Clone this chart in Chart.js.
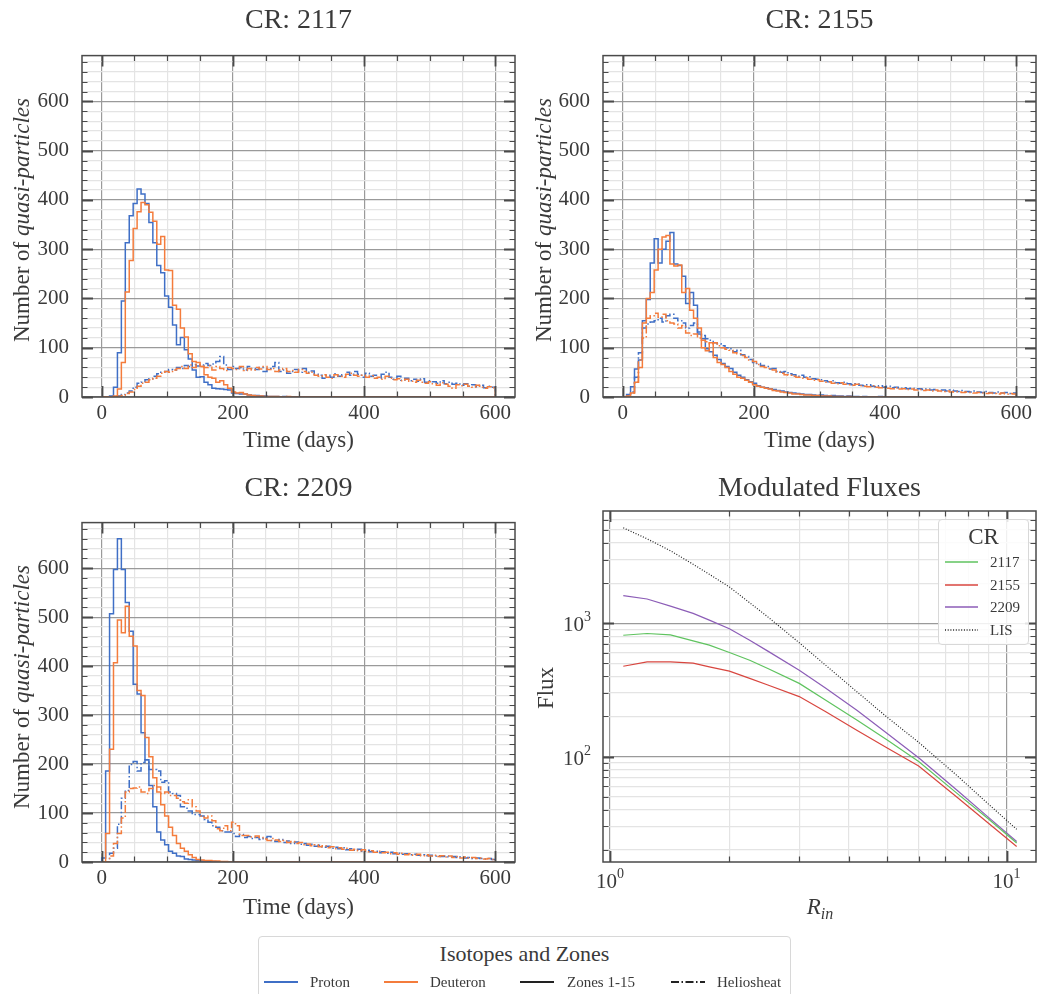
<!DOCTYPE html>
<html><head><meta charset="utf-8">
<script src="https://cdn.jsdelivr.net/npm/chart.js@4/dist/chart.umd.min.js"></script>
<style>
body{margin:0;background:#fff;width:1037px;height:994px;overflow:hidden;position:relative;font-family:"Liberation Serif","DejaVu Serif",serif;color:#3a3a3a}
canvas{position:absolute}
.t{position:absolute;white-space:nowrap;transform:translate(-50%,-50%);line-height:1}
.yl{position:absolute;white-space:nowrap;transform:translate(-50%,-50%) rotate(-90deg);line-height:1;font-size:23px}
.ttl{font-size:28px}
.xl{font-size:23px}
.leg{position:absolute;background:rgba(255,255,255,0.85);border:1px solid #d8d8d8;border-radius:4px;box-sizing:border-box}
.li{position:absolute;white-space:nowrap;line-height:1;transform:translateY(-50%)}
svg{position:absolute;overflow:visible}
</style>
</head><body>
<canvas id="c2117" width="525" height="430" style="left:0;top:30px"></canvas>
<canvas id="c2155" width="512" height="430" style="left:525px;top:30px"></canvas>
<canvas id="c2209" width="525" height="430" style="left:0;top:497px"></canvas>
<canvas id="cflux" width="512" height="430" style="left:525px;top:497px"></canvas>

<div class="t ttl" style="left:298.5px;top:19px">CR: 2117</div>
<div class="t ttl" style="left:819.5px;top:19px">CR: 2155</div>
<div class="t ttl" style="left:298.5px;top:487px">CR: 2209</div>
<div class="t ttl" style="left:819.5px;top:487px">Modulated Fluxes</div>

<div class="t xl" style="left:298.5px;top:439px">Time (days)</div>
<div class="t xl" style="left:819.5px;top:439px">Time (days)</div>
<div class="t xl" style="left:298.5px;top:906px">Time (days)</div>
<div class="t xl" style="left:820px;top:908px"><i>R</i><sub style="font-size:16px;font-style:italic;vertical-align:-5px">in</sub></div>

<div class="yl" style="left:21px;top:220px">Number of <i>quasi-particles</i></div>
<div class="yl" style="left:543px;top:220px">Number of <i>quasi-particles</i></div>
<div class="yl" style="left:21px;top:687px">Number of <i>quasi-particles</i></div>
<div class="yl" style="left:545px;top:688px">Flux</div>

<div class="leg" id="crleg" style="left:938px;top:519px;width:91px;height:126px"></div>
<div class="leg" id="isoleg" style="left:258px;top:936px;width:533px;height:70px"></div>

<script>
// ---------------- DATA ----------------
const BIN_WIDTH = 6;            // days per histogram bin (bins start at day 0)
const TIME_TICKS = [0, 200, 400, 600];
const TIME_MINOR_STEP = 50;
const COUNT_TICKS = [0, 100, 200, 300, 400, 500, 600];
const COUNT_MINOR_STEP = 20;

const ISOTOPES = ['Proton', 'Deuteron'];
const ZONES = ['Zones 1-15', 'Heliosheat'];
const CR_LIST = ['2117', '2155', '2209'];

// CR 2117 (100 bins of 6 days)
const CR2117_PROTON_ZONES = [0,0,2,20,90,195,313,368,393,422, 412,393,354,313,267,252,205,182,146,106, 121,96,77,55,40,41,30,25,18,17, 16,15,14,8,7,6,6,4,3,3, 2,2,1,1,1,0,1,0,0,0, 0,0,0,0,0,0,0,0,0,0, 0,0,0,0,0,0,0,0,0,0, 0,0,0,0,0,0,0,0,0,0, 0,0,0,0,0,0,0,0,0,0, 0,0,0,0,0,0,0,0,0,0];
const CR2117_DEUTERON_ZONES = [0,0,0,2,16,70,213,277,342,376, 395,390,375,357,310,326,258,257,186,178, 140,122,88,72,70,62,45,40,38,30, 33,25,18,10,8,9,6,4,3,2, 2,1,1,1,1,0,0,1,0,0, 0,0,0,0,0,0,0,0,0,0, 0,0,0,0,0,0,0,0,0,0, 0,0,0,0,0,0,0,0,0,0, 0,0,0,0,0,0,0,0,0,0, 0,0,0,0,0,0,0,0,0,0];
const CR2117_PROTON_HELIO = [0,0,0,0,2,5,8,12,20,28, 30,35,37,42,47,50,52,56,55,60, 58,64,62,66,63,65,68,64,67,72, 82,65,56,62,58,60,55,62,58,56, 60,52,58,62,70,52,55,48,52,56, 50,58,50,53,46,44,38,44,40,47, 42,45,50,44,52,46,40,48,42,44, 38,46,50,40,36,42,34,38,33,36, 32,37,30,33,31,28,33,27,30,26, 28,24,27,22,25,21,24,19,22,20];
const CR2117_DEUTERON_HELIO = [0,0,0,0,1,3,7,10,15,22, 28,30,35,38,42,48,52,50,55,58, 62,58,65,60,66,62,60,64,55,62, 58,54,60,58,56,62,54,58,55,60, 57,62,56,58,52,55,58,52,54,50, 56,52,48,50,44,42,45,40,38,45, 42,40,46,48,44,42,44,40,43,38, 40,36,42,38,35,37,33,36,32,30, 34,30,28,31,27,24,29,26,22,18, 25,23,26,22,20,24,20,18,21,19];

// CR 2155
const CR2155_PROTON_ZONES = [0,5,21,57,75,155,198,272,321,272, 300,316,334,270,267,245,190,212,186,128, 118,98,92,85,76,68,62,58,50,44, 40,35,31,28,23,20,19,17,15,13, 12,10,9,8,7,6,5,5,4,3, 4,3,2,3,2,2,1,2,1,1, 0,1,0,0,0,1,0,0,0,0, 0,0,0,0,0,0,0,0,0,0, 0,0,0,0,0,0,0,0,0,0, 0,0,0,0,0,0,0,0,0,0];
const CR2155_DEUTERON_ZONES = [0,2,8,30,60,150,200,212,258,300, 325,328,270,266,268,212,220,176,160,140, 100,94,110,80,70,66,60,52,46,40, 38,34,30,25,22,20,18,16,13,12, 10,9,8,6,6,5,4,4,3,3, 2,2,2,1,1,1,0,1,0,0, 0,0,0,0,0,0,0,0,0,0, 0,0,0,0,0,0,0,0,0,0, 0,0,0,0,0,0,0,0,0,0, 0,0,0,0,0,0,0,0,0,0];
const CR2155_PROTON_HELIO = [0,2,10,40,90,140,148,152,155,160, 152,165,168,160,155,150,140,145,150,132, 125,118,115,110,108,104,100,98,92,95, 86,82,76,70,68,64,62,57,58,52, 50,52,47,45,42,44,40,41,37,36, 35,33,31,33,29,28,30,27,25,27, 24,23,25,22,21,23,20,22,19,20, 18,19,17,18,16,17,15,16,14,15, 13,14,12,14,12,11,13,11,10,12, 10,9,11,9,8,10,8,9,7,8];
const CR2155_DEUTERON_HELIO = [0,1,8,30,75,120,160,165,170,162, 168,155,150,148,140,145,130,125,128,120, 115,112,108,110,104,100,97,95,90,88, 84,80,75,72,66,62,60,58,55,50, 48,45,44,42,40,38,39,36,34,35, 32,30,31,28,27,29,26,25,24,26, 23,22,21,23,20,19,21,18,17,19, 16,17,15,16,14,15,13,14,12,14, 12,11,12,10,11,10,9,10,9,8, 9,8,7,8,7,6,8,6,7,6];

// CR 2209
const CR2209_PROTON_ZONES = [8,186,507,597,660,597,530,471,363,343, 264,209,156,113,61,45,35,22,18,12, 11,6,5,4,3,2,2,1,1,0, 0,0,0,0,0,0,0,0,0,0, 0,0,0,0,0,0,0,0,0,0, 0,0,0,0,0,0,0,0,0,0, 0,0,0,0,0,0,0,0,0,0, 0,0,0,0,0,0,0,0,0,0, 0,0,0,0,0,0,0,0,0,0, 0,0,0,0,0,0,0,0,0,0];
const CR2209_DEUTERON_ZONES = [0,58,230,407,494,468,522,461,441,350, 340,254,215,172,143,117,94,71,54,38, 28,22,15,9,5,4,3,3,2,2, 1,1,0,0,0,0,0,0,0,0, 0,0,0,0,0,0,0,0,0,0, 0,0,0,0,0,0,0,0,0,0, 0,0,0,0,0,0,0,0,0,0, 0,0,0,0,0,0,0,0,0,0, 0,0,0,0,0,0,0,0,0,0, 0,0,0,0,0,0,0,0,0,0];
const CR2209_PROTON_HELIO = [0,0,18,28,77,130,146,199,205,186, 203,209,189,189,186,163,166,143,140,136, 113,110,104,97,97,94,87,81,74,71, 64,61,61,58,52,56,50,52,48,50, 46,49,52,44,42,46,40,43,38,41, 36,38,34,36,32,34,30,32,28,30, 27,29,25,27,24,26,22,24,21,22, 19,21,18,20,17,18,16,17,15,16, 14,15,13,14,12,13,11,12,10,11, 9,10,8,9,7,8,7,6,7,5];
const CR2209_DEUTERON_HELIO = [0,0,12,38,58,90,143,150,151,153, 143,140,150,156,153,140,143,136,136,130, 123,120,127,113,104,94,90,94,84,68, 64,74,64,81,74,54,54,54,51,53, 50,47,44,48,45,42,44,40,42,38, 40,35,37,33,35,31,33,29,31,27, 29,26,28,24,26,23,25,21,23,20, 22,19,20,17,19,16,18,15,17,14, 16,13,15,12,14,11,13,10,12,9, 11,8,10,8,9,7,8,6,7,5];

// Modulated fluxes
const R_IN = [1.08, 1.24, 1.42, 1.62, 1.78, 2.0, 2.25, 2.5, 3.0, 3.5, 4.2, 5.0, 6.0, 7.5, 9.0, 10.6];
const FLUX_2117 = [813, 838, 818, 738, 685, 604, 528, 458, 354, 265, 187, 133, 92, 53, 34, 22.5];
const FLUX_2155 = [476, 514, 514, 503, 471, 437, 386, 344, 282, 217, 157, 116, 85, 49.5, 31.6, 21.2];
const FLUX_2209 = [1610, 1520, 1345, 1187, 1056, 910, 745, 618, 445, 325, 222, 149, 98, 56, 35, 23.1];
const FLUX_LIS = [5200, 4300, 3495, 2770, 2330, 1870, 1425, 1116, 714, 483, 305, 197, 128, 72, 44, 28.5];
const FLUX_X_TICKS = [1, 10];
const FLUX_Y_TICKS = [100, 1000];

// ---------------- STYLE ----------------
const FONT = '"Liberation Serif", "DejaVu Serif", serif';
const TEXT = '#3a3a3a';
const MAJ_GRID = '#9a9a9a';
const MIN_GRID = '#e4e4e4';
const AXIS = '#4a4a4a';
const C_PROTON = '#3f6fc6';
const C_DEUTERON = '#f47c3c';
const DASHDOT = [8, 2.5, 1.5, 2.5];
const C_FLUX = {'2117': '#5fc35f', '2155': '#d8463f', '2209': '#8c5db7', 'LIS': '#222222'};

Chart.defaults.animation = false;
Chart.defaults.responsive = false;
Chart.defaults.devicePixelRatio = 1;
Chart.defaults.font.family = FONT;

const PANELS = {
  c2117: {left:0, top:30, width:525, height:430, area:{l:82, t:44, r:515, b:397}},
  c2155: {left:525, top:30, width:512, height:430, area:{l:603, t:44, r:1036, b:397}},
  c2209: {left:0, top:497, width:525, height:430, area:{l:82, t:511, r:515, b:862}},
  cflux: {left:525, top:497, width:512, height:430, area:{l:603, t:511, r:1036, b:862}}
};

function range(a, b, step) { const out = []; for (let v = a; v <= b + 1e-9; v += step) out.push(v); return out; }

// outline of a step histogram: value of bin i spans [i*w, (i+1)*w]
function stepPoints(counts) {
  const pts = [{x: 0, y: 0}];
  counts.forEach((c, i) => pts.push({x: i * BIN_WIDTH, y: c}));
  pts.push({x: counts.length * BIN_WIDTH, y: counts[counts.length - 1]});
  pts.push({x: counts.length * BIN_WIDTH, y: 0});
  return pts;
}

const frame = {
  id: 'frame',
  afterDatasetsDraw(chart, args, opts) {
    const {ctx, chartArea: {left, right, top, bottom}} = chart;
    const x = chart.scales.x, y = chart.scales.y;
    ctx.save();
    ctx.strokeStyle = AXIS;
    for (const t of x.ticks) {
      const px = Math.round(x.getPixelForValue(t.value)) + 0.5;
      const len = t.major ? 11 : 5.5;
      ctx.lineWidth = t.major ? 1.8 : 1.2;
      ctx.beginPath();
      ctx.moveTo(px, bottom); ctx.lineTo(px, bottom - len);
      ctx.moveTo(px, top); ctx.lineTo(px, top + len);
      ctx.stroke();
    }
    for (const t of y.ticks) {
      const py = Math.round(y.getPixelForValue(t.value)) + 0.5;
      const len = t.major ? 11 : 5.5;
      ctx.lineWidth = t.major ? 1.8 : 1.2;
      ctx.beginPath();
      ctx.moveTo(left, py); ctx.lineTo(left + len, py);
      ctx.moveTo(right, py); ctx.lineTo(right - len, py);
      ctx.stroke();
    }
    ctx.lineWidth = 1.5;
    ctx.strokeRect(left, top, right - left, bottom - top);
    if (opts.logLabels) {
      ctx.fillStyle = TEXT;
      const big = '21px ' + FONT, small = '14px ' + FONT;
      for (const t of x.ticks) {
        if (!t.major) continue;
        const e = String(Math.round(Math.log10(t.value)));
        ctx.font = big; const w1 = ctx.measureText('10').width;
        ctx.font = small; const w2 = ctx.measureText(e).width;
        const px = x.getPixelForValue(t.value);
        const sx = px - (w1 + w2) / 2;
        ctx.textBaseline = 'alphabetic'; ctx.textAlign = 'left';
        ctx.font = big; ctx.fillText('10', sx, bottom + 26);
        ctx.font = small; ctx.fillText(e, sx + w1, bottom + 16);
      }
      for (const t of y.ticks) {
        if (!t.major) continue;
        const e = String(Math.round(Math.log10(t.value)));
        ctx.font = big; const w1 = ctx.measureText('10').width;
        ctx.font = small; const w2 = ctx.measureText(e).width;
        const py = y.getPixelForValue(t.value);
        const ex = left - 12;
        ctx.textBaseline = 'alphabetic'; ctx.textAlign = 'left';
        ctx.font = small; ctx.fillText(e, ex - w2, py - 2);
        ctx.font = big; ctx.fillText('10', ex - w2 - w1, py + 8);
      }
    }
    ctx.restore();
  }
};

function geometry(id) {
  const p = PANELS[id];
  return {
    padding: {left: 0, top: p.area.t - p.top, right: p.left + p.width - p.area.r, bottom: 0},
    yWidth: p.area.l - p.left,
    xHeight: p.top + p.height - p.area.b
  };
}

function histChart(id, protonZones, deutZones, protonHelio, deutHelio) {
  const g = geometry(id);
  const mk = (counts, color, dash) => ({
    data: stepPoints(counts), borderColor: color, borderWidth: 1.5, borderDash: dash,
    stepped: 'before', pointRadius: 0, fill: false, tension: 0
  });
  const tickFont = {family: FONT, size: 21};
  new Chart(document.getElementById(id), {
    type: 'line',
    data: {datasets: [
      mk(deutZones, C_DEUTERON, []),
      mk(deutHelio, C_DEUTERON, DASHDOT),
      mk(protonZones, C_PROTON, []),
      mk(protonHelio, C_PROTON, DASHDOT)
    ]},
    options: {
      layout: {padding: g.padding},
      plugins: {legend: {display: false}, tooltip: {enabled: false}, frame: {}},
      scales: {
        x: {
          type: 'linear', min: -30, max: 630,
          afterBuildTicks: s => { s.ticks = range(TIME_TICKS[0], TIME_TICKS[TIME_TICKS.length - 1], TIME_MINOR_STEP).map(v => ({value: v, major: TIME_TICKS.includes(v)})); },
          afterFit: s => { s.height = g.xHeight; },
          ticks: {autoSkip: false, maxRotation: 0, padding: 4, color: TEXT, font: tickFont,
            callback: (v) => TIME_TICKS.includes(v) ? String(v) : ''},
          grid: {drawTicks: false, lineWidth: 1.2, color: c => (c.tick && TIME_TICKS.includes(c.tick.value)) ? MAJ_GRID : MIN_GRID},
          border: {display: false}
        },
        y: {
          type: 'linear', min: 0, max: 693,
          afterBuildTicks: s => { s.ticks = range(0, 680, COUNT_MINOR_STEP).map(v => ({value: v, major: COUNT_TICKS.includes(v)})); },
          afterFit: s => { s.width = g.yWidth; },
          ticks: {autoSkip: false, padding: 13, color: TEXT, font: tickFont,
            callback: (v) => COUNT_TICKS.includes(v) ? String(v) : ''},
          grid: {drawTicks: false, lineWidth: 1.2, color: c => (c.tick && COUNT_TICKS.includes(c.tick.value)) ? MAJ_GRID : MIN_GRID},
          border: {display: false}
        }
      }
    },
    plugins: [frame]
  });
}

histChart('c2117', CR2117_PROTON_ZONES, CR2117_DEUTERON_ZONES, CR2117_PROTON_HELIO, CR2117_DEUTERON_HELIO);
histChart('c2155', CR2155_PROTON_ZONES, CR2155_DEUTERON_ZONES, CR2155_PROTON_HELIO, CR2155_DEUTERON_HELIO);
histChart('c2209', CR2209_PROTON_ZONES, CR2209_DEUTERON_ZONES, CR2209_PROTON_HELIO, CR2209_DEUTERON_HELIO);

// Flux chart
(function () {
  const g = geometry('cflux');
  const line = (vals, color, dash, w) => ({
    data: R_IN.map((r, i) => ({x: r, y: vals[i]})), borderColor: color, borderWidth: w,
    borderDash: dash, pointRadius: 0, fill: false, tension: 0
  });
  const logMinor = (lo, hi) => {
    const out = [];
    for (let d = Math.floor(Math.log10(lo)); d <= Math.ceil(Math.log10(hi)); d++) {
      for (let m = 1; m <= 9; m++) { const v = m * Math.pow(10, d); if (v >= lo && v <= hi) out.push(v); }
    }
    return out;
  };
  const XMIN = 0.96, XMAX = 11.86, YMIN = 16.2, YMAX = 6950;
  const isMajor = (v, list) => list.some(m => Math.abs(m - v) < 1e-9 * m);
  new Chart(document.getElementById('cflux'), {
    type: 'line',
    data: {datasets: [
      line(FLUX_2117, C_FLUX['2117'], [], 1.2),
      line(FLUX_2155, C_FLUX['2155'], [], 1.2),
      line(FLUX_2209, C_FLUX['2209'], [], 1.2),
      line(FLUX_LIS, C_FLUX['LIS'], [1, 1.7], 1.2)
    ]},
    options: {
      layout: {padding: g.padding},
      plugins: {legend: {display: false}, tooltip: {enabled: false}, frame: {logLabels: true}},
      scales: {
        x: {
          type: 'logarithmic', min: XMIN, max: XMAX,
          afterBuildTicks: s => { s.ticks = logMinor(XMIN, XMAX).map(v => ({value: v, major: isMajor(v, FLUX_X_TICKS)})); },
          afterFit: s => { s.height = g.xHeight; },
          ticks: {autoSkip: false, maxRotation: 0, callback: () => ''},
          grid: {drawTicks: false, lineWidth: 1.2, color: c => (c.tick && isMajor(c.tick.value, FLUX_X_TICKS)) ? MAJ_GRID : MIN_GRID},
          border: {display: false}
        },
        y: {
          type: 'logarithmic', min: YMIN, max: YMAX,
          afterBuildTicks: s => { s.ticks = logMinor(YMIN, YMAX).map(v => ({value: v, major: isMajor(v, FLUX_Y_TICKS)})); },
          afterFit: s => { s.width = g.yWidth; },
          ticks: {autoSkip: false, callback: () => ''},
          grid: {drawTicks: false, lineWidth: 1.2, color: c => (c.tick && isMajor(c.tick.value, FLUX_Y_TICKS)) ? MAJ_GRID : MIN_GRID},
          border: {display: false}
        }
      }
    },
    plugins: [frame]
  });
})();

// Legends (HTML)
function sample(x, y, w, color, dash, width) {
  return `<svg style="left:${x}px;top:${y - 5}px" width="${w}" height="10"><line x1="0" y1="5" x2="${w}" y2="5" stroke="${color}" stroke-width="${width}" stroke-dasharray="${dash}"/></svg>`;
}
(function () {
  const box = document.getElementById('crleg');
  let html = `<div class="li" style="left:0;width:89px;text-align:center;top:16px;font-size:23px">CR</div>`;
  const names = CR_LIST.concat(['LIS']);
  names.forEach((n, i) => {
    const yy = 42 + i * 22.5;
    html += sample(6, yy, 33, C_FLUX[n], n === 'LIS' ? '1,1.7' : 'none', 1.3);
    html += `<div class="li" style="left:51px;top:${yy}px;font-size:15px">${n}</div>`;
  });
  box.innerHTML = html;
})();
(function () {
  const box = document.getElementById('isoleg');
  let html = `<div class="li" style="left:0;width:531px;text-align:center;top:17px;font-size:22px">Isotopes and Zones</div>`;
  const items = [
    {label: ISOTOPES[0], sx: 5, tx: 51, color: C_PROTON, dash: 'none'},
    {label: ISOTOPES[1], sx: 125, tx: 171, color: C_DEUTERON, dash: 'none'},
    {label: ZONES[0], sx: 261, tx: 308, color: '#222', dash: 'none'},
    {label: ZONES[1], sx: 412, tx: 458, color: '#222', dash: '8,2.5,1.5,2.5'}
  ];
  items.forEach(it => {
    html += sample(it.sx, 45, 34, it.color, it.dash, 2);
    html += `<div class="li" style="left:${it.tx}px;top:45px;font-size:15px">${it.label}</div>`;
  });
  box.innerHTML = html;
})();
</script>
</body></html>
